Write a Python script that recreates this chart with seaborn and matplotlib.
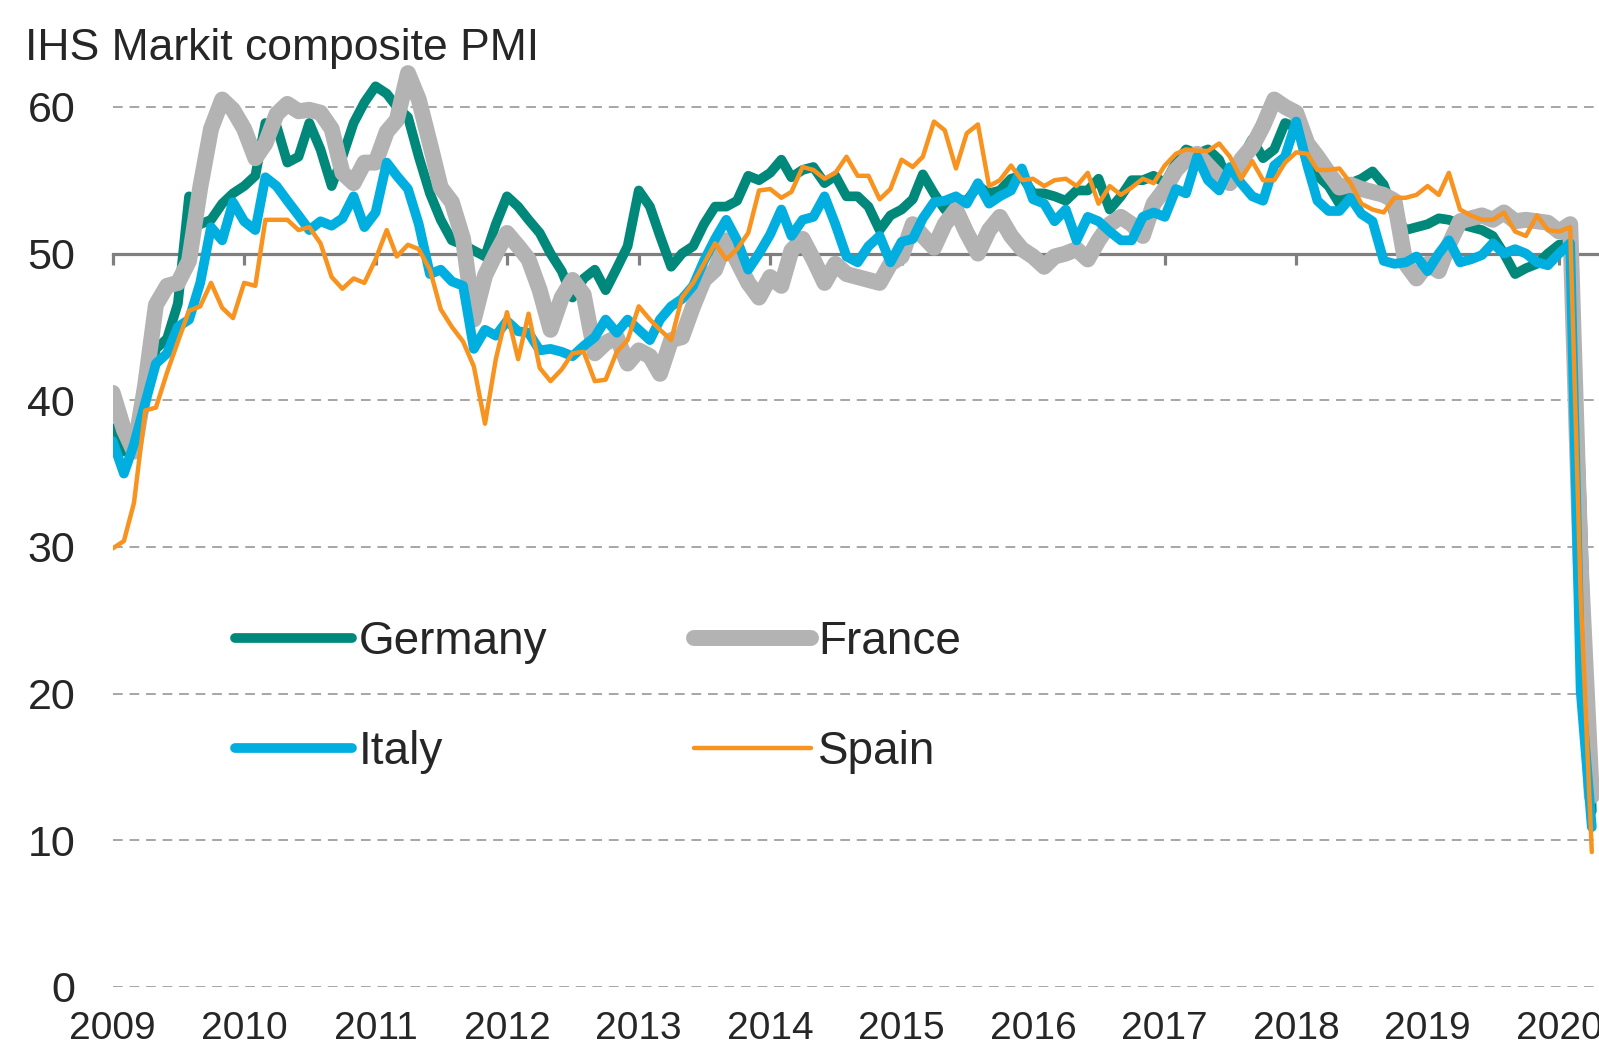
import numpy as np
import pandas as pd
import matplotlib
matplotlib.use('Agg')
import matplotlib.pyplot as plt
from matplotlib import font_manager
import seaborn as sns

# Monthly composite PMI readings, Jan 2009 - Apr 2020
months = pd.date_range('2009-01-01', '2020-04-01', freq='MS')

germany = [
    38.1, 36.5, 37.0, 40.5, 43.5, 44.2, 46.6, 53.9, 52.0, 52.3, 53.4, 54.1,
    54.6, 55.3, 58.9, 58.7, 56.2, 56.6, 58.9, 57.1, 54.6, 56.6, 58.9, 60.3,
    61.4, 60.9, 60.0, 59.3, 56.6, 54.1, 52.3, 50.9, 50.6, 50.2, 49.8, 52.0,
    53.9, 53.2, 52.3, 51.4, 50.0, 48.8, 47.0, 48.3, 48.9, 47.5, 49.0, 50.5,
    54.3, 53.2, 51.2, 49.1, 50.0, 50.5, 52.0, 53.2, 53.2, 53.6, 55.3, 55.0,
    55.5, 56.4, 55.2, 55.7, 55.9, 54.8, 55.3, 53.9, 53.9, 53.2, 51.6, 52.6,
    53.0, 53.7, 55.4, 54.1, 53.0, 53.7, 53.6, 54.6, 54.1, 54.3, 55.1, 55.3,
    54.1, 54.1, 53.9, 53.6, 54.3, 54.3, 55.1, 53.0, 53.9, 55.0, 55.0, 55.3,
    54.8, 56.2, 57.1, 56.8, 57.1, 56.4, 54.6, 56.4, 57.8, 56.5, 57.1, 58.9,
    58.6, 57.3, 55.3, 54.6, 53.4, 54.8, 55.1, 55.6, 54.7, 52.6, 51.6, 51.8,
    52.0, 52.4, 52.3, 52.0, 51.8, 51.6, 51.2, 50.0, 48.6, 49.0, 49.3, 50.0,
    50.6, 50.7, 35.0, 12.0,
]

france = [
    40.5, 38.0, 36.5, 41.0, 46.5, 47.8, 48.0, 49.5, 54.5, 58.5, 60.5, 59.8,
    58.5, 56.5, 57.5, 59.5, 60.2, 59.7, 59.8, 59.6, 58.5, 55.5, 54.8, 56.2,
    56.2, 58.3, 59.1, 62.3, 60.5, 57.5, 54.5, 53.5, 51.0, 45.5, 48.5, 50.0,
    51.4, 50.5, 49.6, 47.5, 44.8, 47.0, 48.2, 47.2, 43.2, 43.9, 44.3, 42.5,
    43.4, 43.0, 41.8, 44.1, 44.3, 46.4, 48.2, 48.9, 50.9, 49.5, 48.0, 47.0,
    48.4, 47.8, 50.2, 51.0, 49.6, 48.0, 49.3, 48.6, 48.4, 48.2, 48.0, 49.3,
    49.8, 52.0, 51.2, 50.4, 52.0, 53.0, 51.4, 50.0, 51.6, 52.5, 51.2, 50.3,
    49.8, 49.1, 49.8, 50.0, 50.3, 49.6, 50.9, 52.0, 52.5, 52.0, 51.2, 53.4,
    54.4, 55.7, 56.4, 56.8, 56.0, 55.2, 54.8, 56.4, 57.3, 58.7, 60.5, 60.0,
    59.6, 57.5, 56.6, 55.5, 54.5, 54.7, 54.4, 54.2, 54.0, 53.6, 49.3, 48.3,
    49.3, 48.8, 50.6, 52.2, 52.4, 52.6, 52.3, 52.8, 52.2, 52.3, 52.2, 52.1,
    51.5, 52.0, 28.9, 13.0,
]

italy = [
    37.2, 35.0, 37.0, 39.8, 42.5, 43.2, 45.0, 45.5, 48.0, 51.8, 50.9, 53.5,
    52.2, 51.6, 55.2, 54.6, 53.6, 52.6, 51.6, 52.2, 51.9, 52.4, 53.9, 51.8,
    52.8, 56.2, 55.3, 54.4, 52.0, 48.6, 48.9, 48.1, 47.8, 43.5, 44.8, 44.4,
    45.4, 44.7, 44.6, 43.4, 43.5, 43.3, 43.0, 43.7, 44.3, 45.5, 44.6, 45.5,
    44.8, 44.1, 45.5, 46.4, 46.9, 47.8, 49.5, 51.0, 52.3, 50.9, 48.9, 50.0,
    51.3, 53.0, 51.2, 52.3, 52.5, 53.9, 52.0, 49.8, 49.4, 50.5, 51.2, 49.4,
    50.8, 51.0, 52.4, 53.5, 53.6, 53.9, 53.4, 54.8, 53.4, 53.9, 54.3, 55.8,
    53.7, 53.4, 52.2, 53.0, 50.9, 52.5, 52.2, 51.5, 50.9, 50.9, 52.5, 52.8,
    52.5, 54.4, 54.1, 56.6, 55.0, 54.3, 55.9, 54.8, 53.9, 53.6, 56.0, 56.6,
    59.0, 56.0, 53.6, 52.9, 52.9, 53.8, 52.7, 52.2, 49.5, 49.3, 49.4, 49.8,
    48.8, 50.0, 50.9, 49.4, 49.6, 49.9, 50.7, 50.0, 50.3, 50.0, 49.4, 49.2,
    50.0, 50.7, 20.2, 10.9,
]

spain = [
    29.9, 30.4, 33.0, 39.3, 39.5, 41.9, 44.0, 46.1, 46.4, 48.0, 46.3, 45.6,
    48.0, 47.8, 52.3, 52.3, 52.3, 51.6, 51.8, 50.7, 48.4, 47.6, 48.3, 48.0,
    49.6, 51.6, 49.8, 50.6, 50.3, 48.9, 46.2, 45.0, 44.0, 42.3, 38.4, 42.8,
    46.0, 42.8, 45.9, 42.2, 41.3, 42.1, 43.2, 43.3, 41.3, 41.4, 43.3, 44.1,
    46.4, 45.5, 44.8, 44.1, 47.0, 48.0, 49.3, 50.7, 49.6, 50.3, 51.4, 54.3,
    54.4, 53.8, 54.2, 55.9, 55.7, 55.1, 55.5, 56.6, 55.3, 55.3, 53.7, 54.4,
    56.4, 55.9, 56.6, 59.0, 58.4, 55.8, 58.2, 58.8, 54.6, 55.0, 56.0, 55.0,
    55.1, 54.6, 55.0, 55.1, 54.6, 55.5, 53.4, 54.6, 54.0, 54.5, 55.1, 54.8,
    56.0, 56.8, 57.1, 57.0, 57.0, 57.5, 56.6, 55.1, 56.3, 55.0, 55.0, 56.2,
    56.9, 56.8, 55.7, 55.7, 55.8, 54.8, 53.4, 53.0, 52.8, 53.8, 53.8, 54.0,
    54.6, 54.0, 55.5, 53.0, 52.6, 52.3, 52.3, 52.8, 51.5, 51.2, 52.6, 51.6,
    51.5, 51.8, 26.7, 9.2,
]

countries = ['Germany', 'France', 'Italy', 'Spain']
colors = ['#00897A', '#B3B3B3', '#00AEE0', '#F7931E']
widths = [7.0, 11.5, 7.0, 3.2]
years = list(range(2009, 2021))
y_ticks = [0, 10, 20, 30, 40, 50, 60]

df = pd.DataFrame({'month': months, 'Germany': germany, 'France': france,
                   'Italy': italy, 'Spain': spain})

sns.set_theme(style='white')
plt.rcParams['font.family'] = ['Liberation Sans', 'DejaVu Sans']
text_col = '#262626'

# narrow face for the year labels if it is installed
try:
    font_manager.findfont('Liberation Sans Narrow', fallback_to_default=False)
    xfont, xsize = 'Liberation Sans Narrow', 32
except ValueError:
    xfont, xsize = 'Liberation Sans', 28

fig = plt.figure(figsize=(15.99, 10.54), dpi=100)
ax = fig.add_axes([0.0705, 0.0636, 0.9295, 0.9046])

for name, col, lw in zip(countries, colors, widths):
    sns.lineplot(data=df, x='month', y=name, ax=ax, color=col, linewidth=lw,
                 label=name, solid_capstyle='round', solid_joinstyle='round',
                 zorder=3)

ax.set_ylim(0, 65)
x0 = pd.Timestamp('2009-01-01')
ax.set_xlim(x0, x0 + pd.Timedelta(days=4128))

for s in ax.spines.values():
    s.set_visible(False)

ax.set_yticks(y_ticks)
ax.set_yticklabels([str(v) for v in y_ticks], fontsize=31, color=text_col)
ax.tick_params(axis='y', length=0, pad=27)
ax.grid(axis='y', color='#A6A6A6', linestyle=(0, (5, 3.5)), linewidth=1.4)
ax.grid(axis='x', visible=False)

year_dates = pd.to_datetime([f'{y}-01-01' for y in years])
ax.set_xticks(year_dates)
ax.set_xticklabels([str(y) for y in years], fontsize=xsize, color=text_col,
                   family=xfont)
ax.tick_params(axis='x', length=0, pad=17)
ax.set_xlabel('')
ax.set_ylabel('')

# the 50 line with year ticks hanging below it
sec = ax.secondary_xaxis(50 / 65)
sec.set_alignment('bottom')
sec.set_xticks(year_dates)
sec.tick_params(axis='x', direction='out', length=8, width=2.3,
                color='#7F7F7F', labelbottom=False, labeltop=False)
sec.spines['bottom'].set_color('#7F7F7F')
sec.spines['bottom'].set_linewidth(2.3)
sec.spines['top'].set_visible(False)
sec.set_zorder(1)

handles, labels = ax.get_legend_handles_labels()
order = [0, 2, 1, 3]
ax.legend([handles[i] for i in order], [labels[i] for i in order],
          ncol=2, loc='upper left', bbox_to_anchor=(235 / 1599, 1 - 620 / 1054),
          bbox_transform=fig.transFigure, frameon=False, fontsize=33,
          handlelength=2.55, handletextpad=0.15, columnspacing=3.2,
          labelspacing=1.44, borderpad=0, borderaxespad=0, labelcolor=text_col)

fig.text(25 / 1599, 1 - 60 / 1054, 'IHS Markit composite PMI', fontsize=32,
         ha='left', va='baseline', color=text_col)

fig.savefig('out.png', dpi=100)
